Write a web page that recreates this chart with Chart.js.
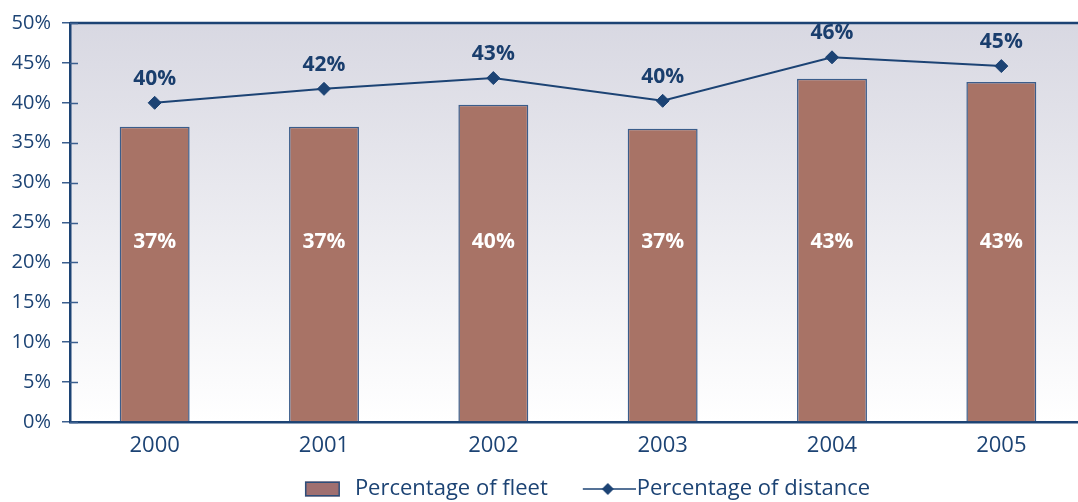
<!DOCTYPE html>
<html>
<head>
<meta charset="utf-8">
<title>Fleet and distance share</title>
<script src="https://cdn.jsdelivr.net/npm/chart.js@4/dist/chart.umd.min.js"></script>
<style>
  html, body { margin: 0; padding: 0; background: #fff; overflow: hidden; }
  #wrap { width: 1157px; height: 502px; }
</style>
</head>
<body>
<div id="wrap"><canvas id="shareChart" width="1157" height="502"></canvas></div>
<script>
// --- data ---
const years = ["2000", "2001", "2002", "2003", "2004", "2005"];
const fleetShare = [37, 37, 39.75, 36.75, 43, 42.6];
const distanceShare = [40, 41.75, 43.1, 40.25, 45.7, 44.6];
const seriesNames = ["Percentage of fleet", "Percentage of distance"];
const yMax = 50;
const yStep = 5;
const barLabelLevel = 22.5; // bar labels sit on one common level

// --- styles ---
const NAVY = "#1c4374";
const BAR_FILL = "#a87366";
const BAR_EDGE = "#3b5d8b";

Chart.defaults.font.family = "'Open Sans', 'DejaVu Sans', sans-serif";
Chart.defaults.color = NAVY;

const pct = (v) => Math.round(v) + "%";

// legend icons (drawn into small canvases, used as point styles)
function fleetIcon() {
	const c = document.createElement("canvas");
	c.width = 57;
	c.height = 16;
	const g = c.getContext("2d");
	g.fillStyle = "#a06f70";
	g.fillRect(18, 0.5, 35, 15);
	g.strokeStyle = "#2c4d7a";
	g.lineWidth = 1.5;
	g.strokeRect(18.75, 1.25, 33.5, 13.5);
	return c;
}

function distanceIcon() {
	const c = document.createElement("canvas");
	c.width = 77;
	c.height = 16;
	const g = c.getContext("2d");
	g.strokeStyle = NAVY;
	g.lineWidth = 1.6;
	g.beginPath();
	g.moveTo(24, 8);
	g.lineTo(77, 8);
	g.stroke();
	g.fillStyle = NAVY;
	g.beginPath();
	g.moveTo(49, 2);
	g.lineTo(55, 8);
	g.lineTo(49, 14);
	g.lineTo(43, 8);
	g.closePath();
	g.fill();
	return c;
}

// plot background, top rule and inner tick marks
const frame = {
	id: "frame",
	beforeDraw(chart) {
		const { ctx, chartArea: a } = chart;
		const grad = ctx.createLinearGradient(0, a.top, 0, a.bottom);
		grad.addColorStop(0, "#d8d8e2");
		grad.addColorStop(1, "#ffffff");
		ctx.save();
		ctx.fillStyle = grad;
		ctx.fillRect(a.left, a.top, a.right - a.left, a.bottom - a.top);
		ctx.restore();
	},
	afterDraw(chart) {
		const { ctx, chartArea: a } = chart;
		const y = chart.scales.y;
		ctx.save();
		ctx.strokeStyle = NAVY;
		ctx.lineWidth = 2.5;
		ctx.beginPath();
		ctx.moveTo(a.left, a.top);
		ctx.lineTo(chart.width, a.top);
		ctx.stroke();
		ctx.lineWidth = 1.5;
		ctx.strokeStyle = "#3b5f8f";
		y.ticks.forEach((t) => {
			const py = Math.round(y.getPixelForValue(t.value)) + 0.5;
			ctx.beginPath();
			ctx.moveTo(a.left, py);
			ctx.lineTo(a.left + 8, py);
			ctx.stroke();
		});
		ctx.restore();
	},
};

// value labels: white inside the bars, navy above the line points
const valueLabels = {
	id: "valueLabels",
	afterDatasetsDraw(chart) {
		const { ctx } = chart;
		const y = chart.scales.y;
		ctx.save();
		ctx.font = "bold 21px 'Open Sans', sans-serif";
		ctx.textAlign = "center";
		ctx.textBaseline = "middle";

		const bars = chart.getDatasetMeta(0).data;
		ctx.fillStyle = "#ffffff";
		bars.forEach((b, i) => {
			ctx.fillText(pct(fleetShare[i]), b.x, y.getPixelForValue(barLabelLevel));
		});

		const pts = chart.getDatasetMeta(1).data;
		ctx.fillStyle = "#1a3e6d";
		pts.forEach((p, i) => {
			ctx.fillText(pct(distanceShare[i]), p.x, p.y - 24);
		});
		ctx.restore();
	},
};

new Chart(document.getElementById("shareChart"), {
	data: {
		labels: years,
		datasets: [
			{
				type: "bar",
				label: seriesNames[0],
				data: fleetShare,
				backgroundColor: BAR_FILL,
				borderColor: BAR_EDGE,
				borderWidth: 1.5,
				barPercentage: 0.413,
				categoryPercentage: 1,
				order: 1,
			},
			{
				type: "line",
				label: seriesNames[1],
				data: distanceShare,
				borderColor: NAVY,
				borderWidth: 2,
				pointStyle: "rectRot",
				pointRadius: 6.5,
				pointBackgroundColor: NAVY,
				pointBorderColor: NAVY,
				pointBorderWidth: 1,
				tension: 0,
				order: 0,
			},
		],
	},
	options: {
		responsive: false,
		animation: false,
		layout: { padding: { top: 21, right: 0, left: 0, bottom: -8 } },
		plugins: {
			tooltip: { enabled: false },
			legend: {
				position: "bottom",
				labels: {
					usePointStyle: true,
					pointStyleWidth: 57,
					boxHeight: 16,
					padding: 21,
					color: NAVY,
					font: { size: 22 },
					generateLabels: () => [
						{ text: seriesNames[0], pointStyle: fleetIcon(), fontColor: NAVY, lineWidth: 0, hidden: false, datasetIndex: 0 },
						{ text: seriesNames[1], pointStyle: distanceIcon(), fontColor: NAVY, lineWidth: 0, hidden: false, datasetIndex: 1 },
					],
				},
			},
		},
		scales: {
			x: {
				grid: { display: false, drawTicks: false },
				border: { color: NAVY, width: 2.5 },
				ticks: { color: NAVY, font: { size: 22 }, padding: 11 },
				afterFit: (scale) => {
					scale.height = 35;
				},
			},
			y: {
				min: 0,
				max: yMax,
				ticks: {
					stepSize: yStep,
					color: NAVY,
					font: { size: 20 },
					padding: 11,
					callback: (v) => v + "%",
				},
				grid: {
					drawOnChartArea: false,
					drawTicks: true,
					tickLength: 8,
					color: "#3b5f8f",
					lineWidth: 1.5,
				},
				border: { color: NAVY, width: 2.5 },
				afterFit: (scale) => {
					scale.width = 70;
				},
			},
			// empty spacer axis on the right, keeps the plot edge where it belongs
			spacer: {
				type: "linear",
				position: "right",
				display: true,
				grid: { display: false, drawTicks: false },
				border: { display: false },
				ticks: { display: false },
				afterFit: (scale) => {
					scale.width = 71;
				},
			},
		},
	},
	plugins: [frame, valueLabels],
});
</script>
</body>
</html>
